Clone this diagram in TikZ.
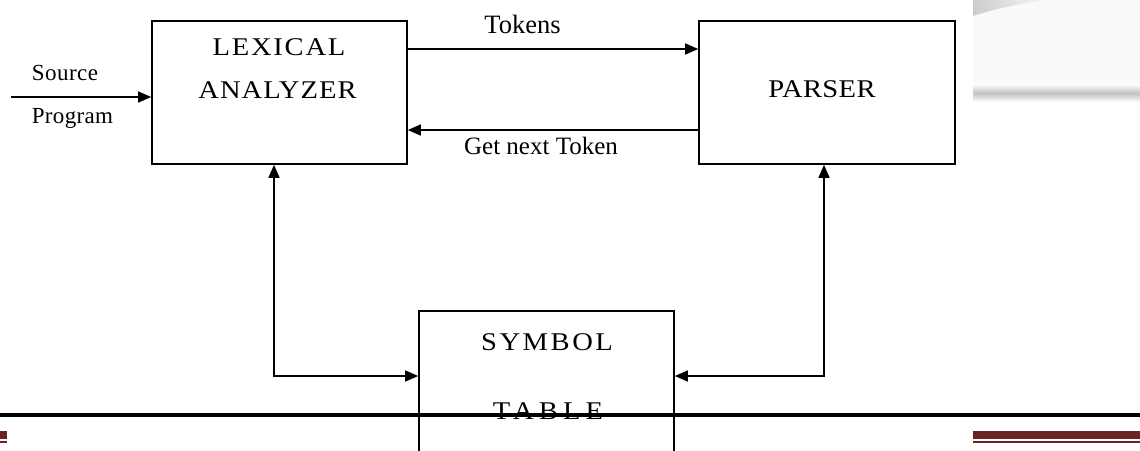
\documentclass[tikz,border=0pt]{standalone}
\usepackage{fontspec}
\setmainfont{Liberation Serif}
\usetikzlibrary{arrows.meta}
\definecolor{barred}{RGB}{107,36,36}

\tikzset{
  box/.style={draw, line width=1.6pt, rectangle, inner sep=0pt},
  caps/.style={anchor=base, inner sep=0pt, font=\fontsize{25.5}{30}\selectfont},
  lbl/.style={anchor=base, inner sep=0pt, font=\fontsize{25}{30}\selectfont},
  small/.style={anchor=base, inner sep=0pt, font=\fontsize{23}{27}\selectfont},
  tip/.tip={Triangle[length=13pt,width=11pt]},
  arr/.style={line width=1.5pt, -tip},
  biarr/.style={line width=1.5pt, tip-tip},
}
% wide, slightly spaced capitals for the block captions
\newcommand{\capsp}[2]{\addfontfeatures{FakeStretch=1.12,LetterSpace=#1}#2}

\begin{document}
\begin{tikzpicture}[x=1pt, y=-1pt]
  \useasboundingbox (0,0) rectangle (1140,450);
  \clip (0,0) rectangle (1140,450);

  % faint page decoration, top right
  \fill[black!2] (973,0) rectangle (1140,84);
  \shade[left color=black!20, right color=black!2]
    (973,16) .. controls (995,9) and (1020,3) .. (1050,0) -- (973,0) -- cycle;
  \shade[top color=white, bottom color=white, middle color=black!24]
    (973,84) rectangle (1140,102);

  % blocks
  \node[box, minimum width=255pt, minimum height=143pt] (lex) at (279.5,92.5) {};
  \node[box, minimum width=256pt, minimum height=143pt] (par) at (827,92.5) {};
  \node[box, minimum width=255pt, minimum height=169pt] (sym) at (546.5,395.5) {};

  % block captions
  \node[caps] (lexA) at (279,55) {\capsp{7}{LEXICAL}};
  \node[caps] (lexB) at (277.5,98) {\capsp{4}{ANALYZER}};
  \node[caps] (parA) at (822,97) {\capsp{1.5}{PARSER}};
  \node[caps] (symA) at (547,350) {\capsp{10}{SYMBOL}};
  \node[caps] (symB) at (548,419) {\capsp{20}{TABLE}};

  % connector labels
  \node[small] (srcA) at (65,80) {\addfontfeatures{LetterSpace=2}Source};
  \node[small] (srcB) at (72.5,123) {\addfontfeatures{LetterSpace=1.5}Program};
  \node[lbl, font=\fontsize{26.5}{30}\selectfont] (tokL) at (522.5,33) {Tokens};
  \node[lbl] (nextL) at (541,154) {Get next Token};

  % connectors
  \coordinate (src) at (11,97);
  \coordinate (tk) at (0,49);
  \coordinate (gn) at (0,130);
  \coordinate (lx) at (274,376);
  \coordinate (rx) at (824,376);

  \draw[arr] (src) -- (src -| lex.west);
  \draw[arr] (lex.east |- tk) -- (par.west |- tk);
  \draw[arr] (par.west |- gn) -- (lex.east |- gn);
  \draw[biarr] (lex.south -| lx) |- (sym.west |- lx);
  \draw[biarr] (par.south -| rx) |- (sym.east |- rx);

  % page rule and footer bars
  \coordinate (ruleL) at (0,415);
  \coordinate (ruleR) at (1140,415);
  \draw[line width=3.5pt] (ruleL) -- (ruleR);
  \fill[barred] (0,431) rectangle (7,439);
  \fill[barred] (0,441) rectangle (7,443);
  \fill[barred] (973,431) rectangle (1140,439);
  \fill[barred] (973,441) rectangle (1140,443);
\end{tikzpicture}
\end{document}
